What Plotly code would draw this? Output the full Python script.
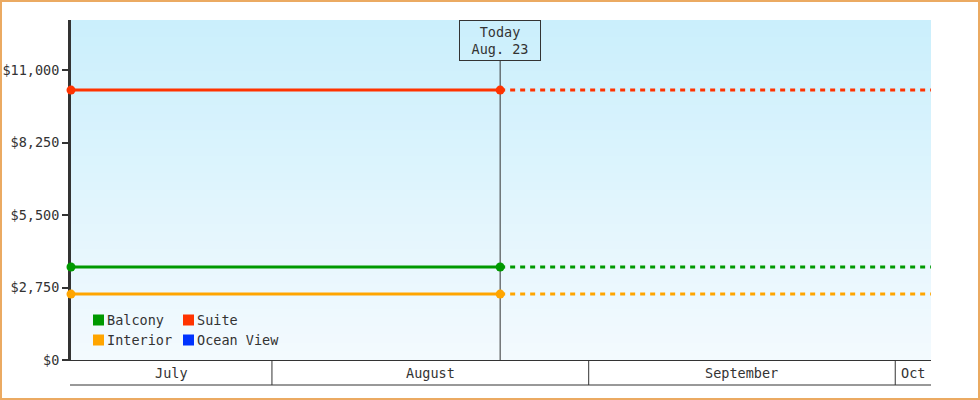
import plotly.graph_objects as go
import pandas as pd

# ---- data ----
series_names = ["Balcony", "Suite", "Interior", "Ocean View"]
series_colors = ["#009900", "#FF3300", "#FFA500", "#0033FF"]
series_values = [3530, 10240, 2500, None]   # Ocean View has no price
start_date = "2024-07-12 08:00"
today_date = "2024-08-23 08:00"
end_date = "2024-10-04 12:00"
today_label = ["Today", "Aug. 23"]
month_labels = ["July", "August", "September", "Oct"]
month_starts = ["2024-07-01", "2024-08-01", "2024-09-01", "2024-10-01", "2024-11-01"]
y_ticks = [0, 2750, 5500, 8250, 11000]
y_tick_labels = ["$0", "$2,750", "$5,500", "$8,250", "$11,000"]
y_max = 12900

# ---- layout constants ----
W, H = 980, 400
ML, MR, MT, MB = 71, 49, 20, 40
PW, PH = W - ML - MR, H - MT - MB
FONT = "DejaVu Sans Mono"
FS = 13.5
INK = "#333333"


def px_x(px):
    return (px - ML) / PW


def px_y(py):
    return (H - MB - py) / PH


fig = go.Figure()

for name, color, val in zip(series_names, series_colors, series_values):
    if val is None:
        continue
    fig.add_trace(go.Scatter(
        x=[start_date, today_date], y=[val, val], mode="lines+markers",
        line=dict(color=color, width=3),
        marker=dict(color=color, size=9, symbol="circle", line=dict(width=0)),
        cliponaxis=False, showlegend=False, hoverinfo="skip"))
    fig.add_trace(go.Scatter(
        x=[today_date, end_date], y=[val, val], mode="lines",
        line=dict(color=color, width=3, dash="5px,5px"),
        showlegend=False, hoverinfo="skip"))

shapes = []
# background gradient (top -> bottom), stacked to avoid seams
top_c = (203, 239, 252)
bot_c = (243, 250, 254)
n = 40
for i in range(n):
    t = i / (n - 1)
    c = tuple(round(top_c[k] + (bot_c[k] - top_c[k]) * t) for k in range(3))
    shapes.append(dict(type="rect", xref="paper", yref="paper", x0=0, x1=1,
                       y0=0, y1=1 - i / n, line=dict(width=0),
                       fillcolor="rgb(%d,%d,%d)" % c, layer="below"))

# month band
band_bottom = px_y(385)
shapes.append(dict(type="line", xref="paper", yref="paper", x0=px_x(70), x1=1,
                   y0=band_bottom, y1=band_bottom, line=dict(color=INK, width=1)))
for ms in month_starts[1:-1]:
    shapes.append(dict(type="line", xref="x", yref="paper", x0=ms, x1=ms,
                       y0=0, y1=band_bottom, line=dict(color=INK, width=1)))

# today line
shapes.append(dict(type="line", xref="x", yref="paper", x0=today_date, x1=today_date,
                   y0=0, y1=px_y(60), line=dict(color=INK, width=1), layer="below"))

# page border
shapes.append(dict(type="rect", xref="paper", yref="paper",
                   x0=px_x(1), x1=px_x(W - 1), y0=px_y(1), y1=px_y(H - 1),
                   line=dict(color="#EBAA62", width=2), fillcolor="rgba(0,0,0,0)"))

annotations = []
# month labels centered in visible part of each month
r0, r1 = pd.Timestamp(start_date), pd.Timestamp(end_date)
for lab, a, b in zip(month_labels, month_starts[:-1], month_starts[1:]):
    a, b = max(pd.Timestamp(a), r0), min(pd.Timestamp(b), r1)
    mid = a + (b - a) / 2
    annotations.append(dict(x=mid, xref="x", y=(0 + band_bottom) / 2, yref="paper",
                            text=lab, showarrow=False, xanchor="center", yanchor="middle",
                            font=dict(family=FONT, size=FS, color=INK)))

# today box
annotations.append(dict(x=today_date, xref="x", y=1, yref="paper", yanchor="top",
                        text="<br>".join(today_label), showarrow=False,
                        font=dict(family=FONT, size=FS, color=INK),
                        bordercolor=INK, borderwidth=1, borderpad=2,
                        width=76, height=35, bgcolor="rgba(0,0,0,0)"))

# legend (2 columns)
leg_pos = [(93, 320), (183, 320), (93, 340), (183, 340)]
for (lx, ly), name, color in zip(leg_pos, series_names, series_colors):
    shapes.append(dict(type="rect", xref="paper", yref="paper",
                       x0=px_x(lx), x1=px_x(lx + 11), y0=px_y(ly + 5.5), y1=px_y(ly - 5.5),
                       fillcolor=color, line=dict(width=0)))
    annotations.append(dict(x=px_x(lx + 12), xref="paper", y=px_y(ly), yref="paper",
                            text=name, showarrow=False, xanchor="left", yanchor="middle",
                            font=dict(family=FONT, size=FS, color=INK)))

fig.update_layout(
    width=W, height=H, margin=dict(l=ML, r=MR, t=MT, b=MB, pad=0, autoexpand=False),
    paper_bgcolor="white", plot_bgcolor="white",
    shapes=shapes, annotations=annotations, showlegend=False,
    font=dict(family=FONT, size=FS, color=INK),
    xaxis=dict(type="date", range=[start_date, end_date], showgrid=False,
               showticklabels=False, ticks="", showline=True, linecolor=INK,
               linewidth=1, zeroline=False, fixedrange=True, automargin=False),
    yaxis=dict(range=[0, y_max], tickmode="array", tickvals=y_ticks,
               ticktext=y_tick_labels, automargin=False, layer="below traces",
               showgrid=False, zeroline=False, showline=True, linecolor=INK,
               linewidth=3, ticks="outside", ticklen=6, tickwidth=2, tickcolor=INK,
               tickfont=dict(family=FONT, size=FS, color=INK), fixedrange=True),
)

fig.write_html("out.html", config={"displayModeBar": False},
               post_script="document.body.style.margin='0';")
